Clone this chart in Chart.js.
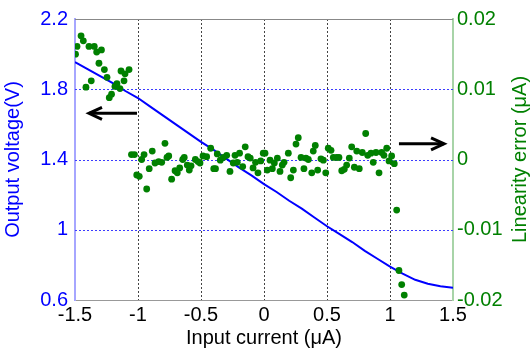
<!DOCTYPE html>
<html>
<head>
<meta charset="utf-8">
<script src="https://cdn.jsdelivr.net/npm/chart.js@4/dist/chart.umd.min.js"></script>
<style>
  html, body { margin: 0; padding: 0; background: #fff; }
  #wrap { width: 532px; height: 354px; }
</style>
</head>
<body>
<div id="wrap"><canvas id="chart" width="532" height="354"></canvas></div>
<script>
// tick labels
const xTicks = [-1.5, -1, -0.5, 0, 0.5, 1, 1.5];
const voltTicks = [0.6, 1, 1.4, 1.8, 2.2];
const errTicks = [-0.02, -0.01, 0, 0.01, 0.02];

// output voltage (V) vs input current (uA)
const currentX = [-1.5, -1.4, -1.3, -1.2, -1.1, -1.0, -0.9, -0.8, -0.7, -0.6,
                  -0.5, -0.4, -0.3, -0.2, -0.1, 0, 0.1, 0.2, 0.3, 0.4,
                  0.5, 0.6, 0.7, 0.8, 0.9, 1.0, 1.1, 1.2, 1.3, 1.4, 1.5];
const voltage = [1.955, 1.915, 1.875, 1.835, 1.79, 1.75, 1.70, 1.65, 1.60, 1.55,
                 1.50, 1.455, 1.405, 1.355, 1.31, 1.26, 1.215, 1.165, 1.12, 1.07,
                 1.02, 0.975, 0.93, 0.88, 0.835, 0.79, 0.75, 0.715, 0.693, 0.678, 0.67];

// linearity error points
const errX = [
  -1.496, -1.484, -1.452, -1.434, -1.413, -1.389, -1.371, -1.347, -1.328, -1.310,
  -1.290, -1.267, -1.246, -1.228, -1.210, -1.183, -1.167, -1.143, -1.135, -1.111,
  -1.103, -1.071,
  -1.052, -1.028, -1.010, -0.990, -0.971, -0.952, -0.931, -0.911, -0.887, -0.865,
  -0.836, -0.812, -0.786, -0.770, -0.756, -0.733, -0.706, -0.688, -0.669, -0.645,
  -0.633, -0.609, -0.593, -0.579, -0.545, -0.524, -0.508, -0.484, -0.455, -0.423,
  -0.399, -0.385, -0.371, -0.347, -0.323, -0.296, -0.270, -0.244, -0.230, -0.212,
  -0.194, -0.169, -0.149, -0.127, -0.109, -0.087, -0.067, -0.048, -0.026, -0.006,
  0.008, 0.026, 0.048, 0.066, 0.082, 0.106, 0.127, 0.145, 0.159, 0.193,
  0.212, 0.233, 0.254, 0.272, 0.294, 0.317, 0.333, 0.352, 0.379, 0.391,
  0.407, 0.426, 0.452, 0.471, 0.490, 0.510, 0.532, 0.550, 0.577, 0.595,
  0.617, 0.637, 0.656, 0.677, 0.696, 0.717, 0.736, 0.756, 0.780, 0.807,
  0.823, 0.849, 0.867, 0.889, 0.913, 0.934, 0.952, 0.974, 0.992, 1.013,
  1.034, 1.053, 1.071, 1.093, 1.113
];
const errY = [
  0.0150, 0.0161, 0.0176, 0.0169, 0.0103, 0.0161, 0.0112, 0.0161, 0.0153, 0.0137,
  0.0156, 0.0128, 0.0117, 0.0088, 0.0093, 0.0104, 0.0108, 0.0101, 0.0126, 0.0112,
  0.0122, 0.0128,
  0.0007, 0.0007, -0.0022, -0.0024, 0.0000, 0.0007, -0.0042, -0.0013, 0.0012, -0.0005,
  -0.0003, -0.0004, 0.0023, 0.0003, 0.0005, -0.0028, -0.0016, -0.0019, -0.0012, 0.0000,
  0.0003, -0.0008, -0.0015, -0.0009, 0.0000, -0.0003, -0.0005, 0.0005, 0.0004, 0.0016,
  -0.0013, -0.0013, 0.0008, -0.0001, 0.0003, 0.0006, -0.0017, -0.0005, 0.0006, -0.0004,
  0.0009, -0.0010, 0.0018, 0.0004, 0.0002, -0.0012, -0.0004, -0.0019, -0.0002, 0.0009,
  0.0009, -0.0015, -0.0001, -0.0013, -0.0005, 0.0002, -0.0017, -0.0008, -0.0004, 0.0009,
  -0.0026, -0.0015, 0.0022, 0.0031, 0.0003, -0.0013, 0.0002, 0.0000, -0.0019, 0.0012,
  0.0020, -0.0015, 0.0001, -0.0001, -0.0019, 0.0016, 0.0013, 0.0003, 0.0003, 0.0003,
  -0.0016, -0.0014, -0.0008, 0.0002, 0.0018, -0.0011, 0.0012, -0.0013, 0.0010, 0.0037,
  0.0006, 0.0009, -0.0004, 0.0010, -0.0019, 0.0010, 0.0006, 0.0016, -0.0002, 0.0005,
  -0.0006, -0.0072, -0.0158, -0.0178, -0.0193
];

// arrows: [tailX, tipX, y on voltage axis]
const arrows = [
  [-1.008, -1.389, 1.663],
  [1.071, 1.429, 1.489]
];

const FONT = '"Liberation Sans", Arial, sans-serif';
const BLUE = '#0000ff';
const GREEN = '#008000';

const decorations = {
  id: 'decorations',
  beforeDatasetsDraw(chart) {
    const { ctx, chartArea, scales } = chart;
    ctx.save();
    // horizontal dotted grid (voltage axis)
    ctx.strokeStyle = '#3c3cff';
    ctx.lineWidth = 1;
    ctx.setLineDash([2, 2]);
    voltTicks.slice(1, -1).forEach(v => {
      const y = Math.round(scales.yV.getPixelForValue(v)) + 0.5;
      ctx.beginPath();
      ctx.moveTo(chartArea.left, y);
      ctx.lineTo(chartArea.right, y);
      ctx.stroke();
    });
    ctx.setLineDash([]);
    // top frame line
    ctx.strokeStyle = '#888';
    ctx.beginPath();
    ctx.moveTo(chartArea.left, chartArea.top + 0.5);
    ctx.lineTo(chartArea.right, chartArea.top + 0.5);
    ctx.stroke();
    ctx.restore();
  },
  afterDatasetsDraw(chart) {
    const { ctx, chartArea, scales } = chart;
    ctx.save();
    // arrows
    ctx.strokeStyle = '#000';
    ctx.lineWidth = 3;
    ctx.lineCap = 'butt';
    arrows.forEach(([tail, tip, y]) => {
      const x0 = scales.x.getPixelForValue(tail);
      const x1 = scales.x.getPixelForValue(tip);
      const py = scales.yV.getPixelForValue(y);
      const dir = x1 > x0 ? 1 : -1;
      ctx.beginPath();
      ctx.moveTo(x0, py);
      ctx.lineTo(x1, py);
      ctx.stroke();
      ctx.beginPath();
      ctx.moveTo(x1 - dir * 13, py - 6);
      ctx.lineTo(x1, py);
      ctx.lineTo(x1 - dir * 13, py + 6);
      ctx.stroke();
    });
    // axis titles
    const midY = (chartArea.top + chartArea.bottom) / 2;
    ctx.font = '20px ' + FONT;
    ctx.textAlign = 'center';
    ctx.textBaseline = 'middle';
    ctx.fillStyle = BLUE;
    ctx.save();
    ctx.translate(13, midY);
    ctx.rotate(-Math.PI / 2);
    ctx.fillText('Output voltage(V)', 0, 0);
    ctx.restore();
    ctx.fillStyle = GREEN;
    ctx.save();
    ctx.translate(520, midY);
    ctx.rotate(-Math.PI / 2);
    ctx.fillText('Linearity error (\u03bcA)', 0, 0);
    ctx.restore();
    ctx.fillStyle = '#000';
    ctx.fillText('Input current (\u03bcA)', (chartArea.left + chartArea.right) / 2, 338);
    ctx.restore();
  }
};

const ctx = document.getElementById('chart').getContext('2d');
new Chart(ctx, {
  type: 'scatter',
  data: {
    datasets: [
      {
        label: 'Output voltage',
        data: currentX.map((x, i) => ({ x: x, y: voltage[i] })),
        yAxisID: 'yV',
        showLine: true,
        borderColor: BLUE,
        borderWidth: 2,
        pointRadius: 0,
        tension: 0,
        order: 2
      },
      {
        label: 'Linearity error',
        data: errX.map((x, i) => ({ x: x, y: errY[i] })),
        yAxisID: 'yE',
        showLine: false,
        backgroundColor: GREEN,
        borderWidth: 0,
        pointRadius: 3.4,
        order: 1
      }
    ]
  },
  plugins: [decorations],
  options: {
    responsive: false,
    animation: false,
    layout: { padding: { top: 17, left: 0, right: 0, bottom: 0 } },
    plugins: { legend: { display: false }, tooltip: { enabled: false } },
    scales: {
      x: {
        type: 'linear',
        min: -1.5, max: 1.5,
        afterBuildTicks: s => { s.ticks = xTicks.map(v => ({ value: v })); },
        afterFit: s => { s.height = 54; },
        ticks: { color: '#000', font: { size: 20, family: FONT }, padding: 3, maxRotation: 0,
                 callback: v => String(v) },
        grid: {
          drawTicks: false,
          color: c => (c.tick && (c.tick.value === -1.5 || c.tick.value === 1.5)) ? 'rgba(0,0,0,0)' : '#444',
          lineWidth: 1
        },
        border: { display: true, color: '#999', width: 1, dash: [2, 2] }
      },
      yV: {
        type: 'linear',
        position: 'left',
        min: 0.6, max: 2.2,
        afterBuildTicks: s => { s.ticks = voltTicks.map(v => ({ value: v })); },
        afterFit: s => { s.width = 75; },
        ticks: { color: BLUE, font: { size: 20, family: FONT }, padding: 7,
                 callback: v => String(v) },
        grid: { drawOnChartArea: false, drawTicks: false },
        border: { display: true, color: '#a6a6ff', width: 2 }
      },
      yE: {
        type: 'linear',
        position: 'right',
        min: -0.02, max: 0.02,
        afterBuildTicks: s => { s.ticks = errTicks.map(v => ({ value: v })); },
        afterFit: s => { s.width = 79; },
        ticks: { color: GREEN, font: { size: 20, family: FONT }, padding: 4,
                 callback: v => String(v) },
        grid: { drawOnChartArea: false, drawTicks: false },
        border: { display: true, color: '#a8d4a8', width: 2 }
      }
    }
  }
});
</script>
</body>
</html>
